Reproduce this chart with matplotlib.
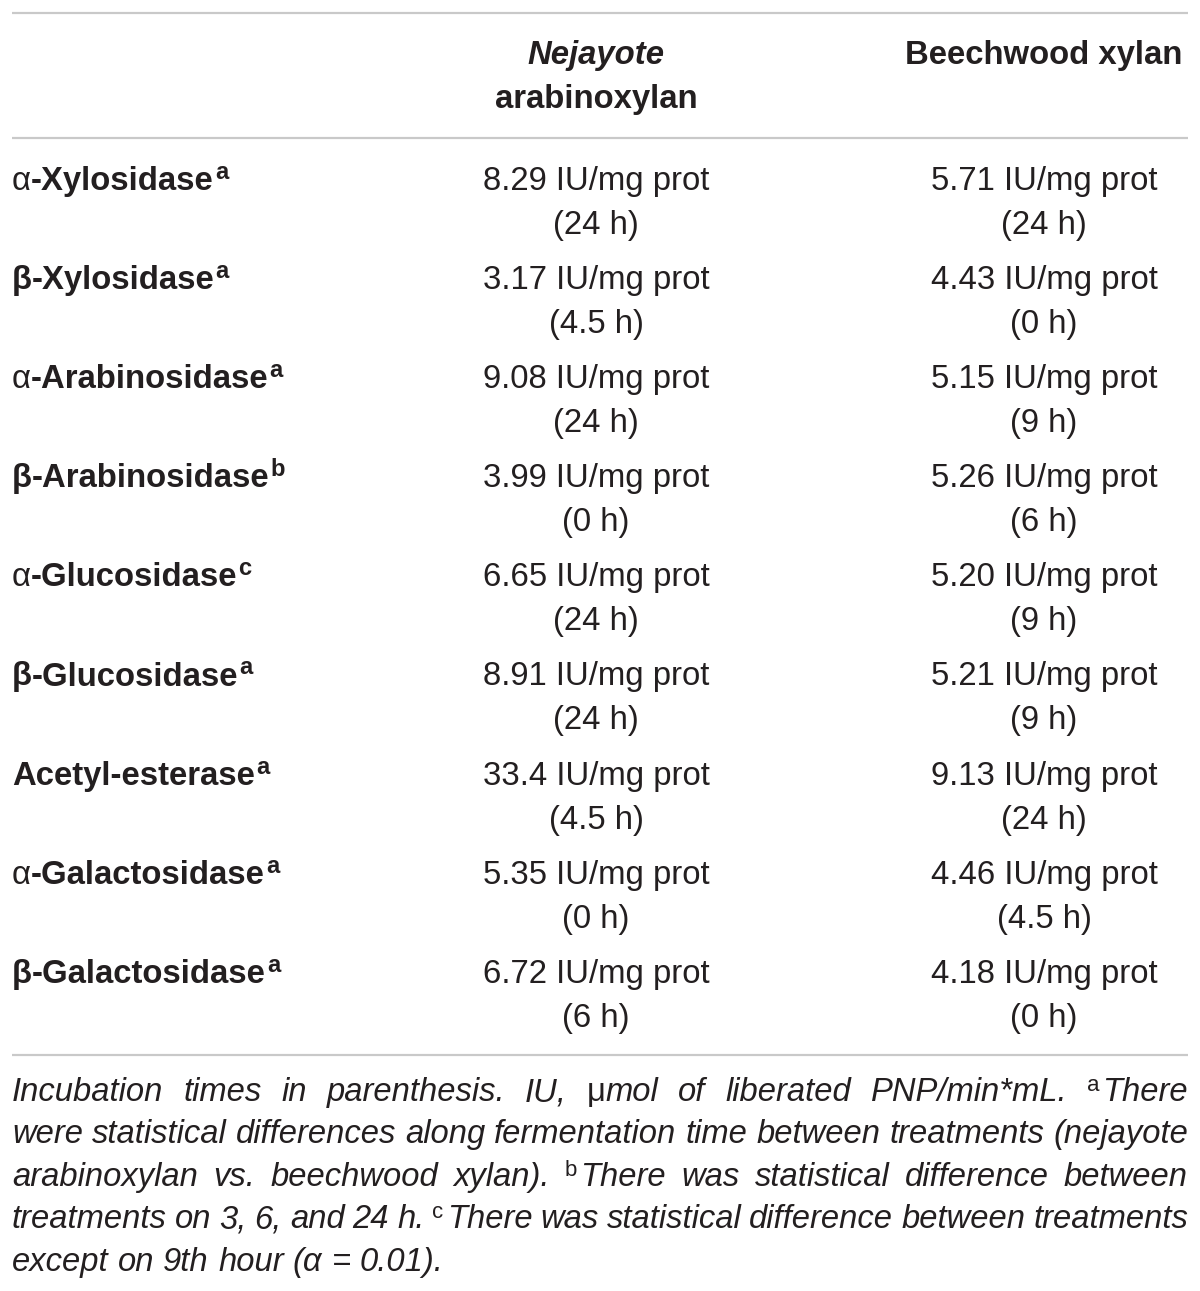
import matplotlib
matplotlib.use("Agg")
import matplotlib.pyplot as plt

# table contents
enzymes = ["α-Xylosidase", "β-Xylosidase", "α-Arabinosidase", "β-Arabinosidase",
           "α-Glucosidase", "β-Glucosidase", "Acetyl-esterase", "α-Galactosidase",
           "β-Galactosidase"]
enzyme_marks = ["a", "a", "a", "b", "c", "a", "a", "a", "a"]
nejayote_vals = ["8.29", "3.17", "9.08", "3.99", "6.65", "8.91", "33.4", "5.35", "6.72"]
nejayote_times = ["24 h", "4.5 h", "24 h", "0 h", "24 h", "24 h", "4.5 h", "0 h", "6 h"]
beech_vals = ["5.71", "4.43", "5.15", "5.26", "5.20", "5.21", "9.13", "4.46", "4.18"]
beech_times = ["24 h", "0 h", "9 h", "6 h", "9 h", "9 h", "24 h", "4.5 h", "0 h"]
unit = "IU/mg prot"

# footnote, one string per printed line; "^x" marks a superscript
footnote_lines = [
    "Incubation times in parenthesis. IU, μmol of liberated PNP/min*mL. ^aThere",
    "were statistical differences along fermentation time between treatments (nejayote",
    "arabinoxylan vs. beechwood xylan). ^bThere was statistical difference between",
    "treatments on 3, 6, and 24 h. ^cThere was statistical difference between treatments",
    "except on 9th hour (α = 0.01).",
]

W, H = 1200, 1291
FONT = "Liberation Sans"
INK = "#231f20"
RULE = "#c9c9c9"
SIZE = 23.7
FOOT_SIZE = 23.6

fig = plt.figure(figsize=(W / 100, H / 100), dpi=100)
ax = fig.add_axes([0, 0, 1, 1])
ax.set_xlim(0, W)
ax.set_ylim(H, 0)
ax.axis("off")
renderer = fig.canvas.get_renderer()


def width(s, **kw):
    t = ax.text(0, 0, s, fontfamily=FONT, **kw)
    w = t.get_window_extent(renderer).width
    t.remove()
    return w


def put(x, y, s, **kw):
    ax.text(x, y, s, fontfamily=FONT, color=INK, va="baseline", **kw)


# rules
left, right = 12, 1188
for y in [13, 138, 1055]:
    ax.plot([left, right], [y, y], color=RULE, linewidth=1.6, solid_capstyle="butt")

col1, col2 = 596, 1044

# header
put(col1, 64, "Nejayote", fontsize=SIZE, fontweight="bold", fontstyle="italic", ha="center")
put(col1, 108, "arabinoxylan", fontsize=SIZE, fontweight="bold", ha="center")
put(col2, 64, "Beechwood xylan", fontsize=SIZE, fontweight="bold", ha="center")

# body rows
row_step = 99.1
for i, name in enumerate(enzymes):
    y1 = 190 + row_step * i
    y2 = y1 + 44
    x = left
    if name[0] in "αβ":
        w8 = "normal" if name[0] == "α" else "bold"
        put(x, y1, name[0], fontsize=SIZE, fontweight=w8)
        x += width(name[0], fontsize=SIZE, fontweight=w8)
        rest = name[1:]
    else:
        rest = name
    put(x, y1, rest, fontsize=SIZE, fontweight="bold")
    x += width(rest, fontsize=SIZE, fontweight="bold") + 1
    put(x, y1 - 11, enzyme_marks[i], fontsize=SIZE * 0.72, fontweight="bold")

    put(col1, y1, f"{nejayote_vals[i]} {unit}", fontsize=SIZE, ha="center")
    put(col1, y2, f"({nejayote_times[i]})", fontsize=SIZE, ha="center")
    put(col2, y1, f"{beech_vals[i]} {unit}", fontsize=SIZE, ha="center")
    put(col2, y2, f"({beech_times[i]})", fontsize=SIZE, ha="center")


# footnote, justified by hand
def word_runs(word):
    if word.startswith("^"):
        return [(word[1], "sup"), (word[2:], "it")]
    if "μ" in word:
        a, b = word.split("μ", 1)
        return [(a, "it"), ("μ", "up"), (b, "it")]
    return [(word, "it")]


def run_kw(kind):
    if kind == "sup":
        return dict(fontsize=FOOT_SIZE * 0.68, fontstyle="normal")
    if kind == "up":
        return dict(fontsize=FOOT_SIZE, fontstyle="normal")
    return dict(fontsize=FOOT_SIZE, fontstyle="italic")


space_w = width("a a", **run_kw("it")) - width("aa", **run_kw("it"))
for n, line in enumerate(footnote_lines):
    yb = 1101 + 42.4 * n
    words = line.split(" ")
    runs = [word_runs(w) for w in words]
    widths = [sum(width(t, **run_kw(k)) + (3 if k == "sup" else 0) for t, k in r if t)
              for r in runs]
    last = n == len(footnote_lines) - 1
    if last or len(words) < 2:
        gap = space_w
    else:
        gap = (right - left - sum(widths)) / (len(words) - 1)
    x = left
    for r, w in zip(runs, widths):
        xx = x
        for t, k in r:
            if not t:
                continue
            dy = -10 if k == "sup" else 0
            put(xx, yb + dy, t, **run_kw(k))
            xx += width(t, **run_kw(k)) + (3 if k == "sup" else 0)
        x += w + gap

fig.savefig("out.png", dpi=100, facecolor="white")
